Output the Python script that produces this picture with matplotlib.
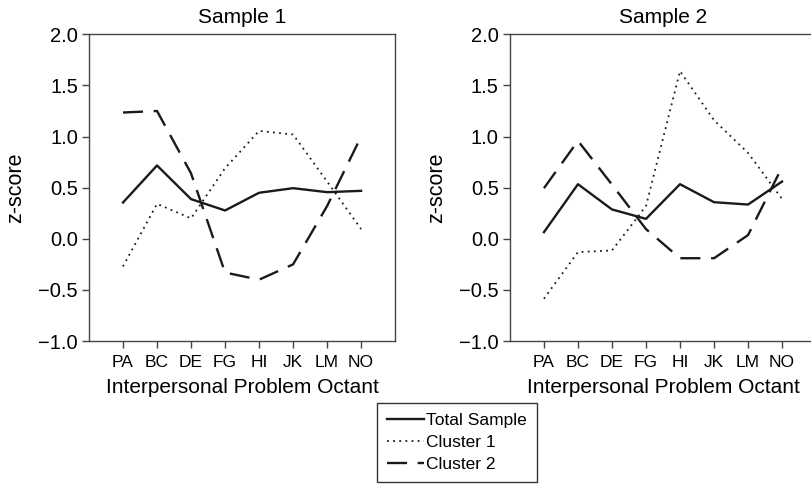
import matplotlib
matplotlib.use("Agg")
import matplotlib.pyplot as plt

plt.rcParams['font.family'] = ['Liberation Sans', 'DejaVu Sans']

octants = ["PA", "BC", "DE", "FG", "HI", "JK", "LM", "NO"]

# sample 1
s1_total = [0.355, 0.717, 0.388, 0.277, 0.45, 0.495, 0.456, 0.469]
s1_cluster1 = [-0.27, 0.342, 0.20, 0.69, 1.055, 1.02, 0.56, 0.095]
s1_cluster2 = [1.235, 1.25, 0.64, -0.33, -0.40, -0.25, 0.32, 1.0]

# sample 2
s2_total = [0.065, 0.534, 0.287, 0.195, 0.534, 0.358, 0.335, 0.56]
s2_cluster1 = [-0.586, -0.13, -0.114, 0.32, 1.64, 1.16, 0.84, 0.39]
s2_cluster2 = [0.495, 0.958, 0.53, 0.095, -0.19, -0.19, 0.036, 0.70]

ink = "#1a1a1a"
fig = plt.figure(figsize=(8.12, 4.9), dpi=100)

ax1 = fig.add_axes([0.1096, 0.304, 0.377, 0.626])
ax2 = fig.add_axes([0.628, 0.304, 0.377, 0.626])

x = list(range(1, len(octants) + 1))
lines = []
for ax, title, tot, c1, c2 in [(ax1, "Sample 1", s1_total, s1_cluster1, s1_cluster2),
                               (ax2, "Sample 2", s2_total, s2_cluster1, s2_cluster2)]:
    l1, = ax.plot(x, tot, color=ink, lw=1.7, ls="-", label="Total Sample")
    l2, = ax.plot(x, c1, color=ink, lw=1.3, ls=(0, (1, 2.4)), label="Cluster 1")
    l3, = ax.plot(x, c2, color=ink, lw=1.7, ls=(0, (8.5, 4.5)), label="Cluster 2")
    lines = [l1, l2, l3]
    ax.set_xlim(0, 9)
    ax.set_ylim(-1.0, 2.0)
    ax.set_xticks(x)
    ax.set_xticklabels(octants, fontsize=12.5)
    ax.set_yticks([-1.0, -0.5, 0.0, 0.5, 1.0, 1.5, 2.0])
    ax.set_yticklabels(["\u22121.0", "\u22120.5", "0.0", "0.5", "1.0", "1.5", "2.0"], fontsize=14.5)
    ax.tick_params(direction="out", length=5, width=1, color="#444444", pad=3)
    ax.tick_params(axis="x", pad=5)
    for sp in ax.spines.values():
        sp.set_color("#444444")
        sp.set_linewidth(1)
    ax.set_title(title, fontsize=15, pad=8)
    ax.set_xlabel("Interpersonal Problem Octant", fontsize=15, labelpad=6)
    ax.set_ylabel("z-score", fontsize=15.5, labelpad=9)

leg = fig.legend(lines, [l.get_label() for l in lines], loc="upper center",
                 bbox_to_anchor=(0.563, 0.178), fontsize=12.5, frameon=True,
                 fancybox=False, edgecolor="black", handlelength=2.1,
                 handletextpad=0.15, labelspacing=0.38, borderpad=0.6,
                 borderaxespad=0)
leg.get_frame().set_linewidth(1)

fig.savefig("out.png", dpi=100)
